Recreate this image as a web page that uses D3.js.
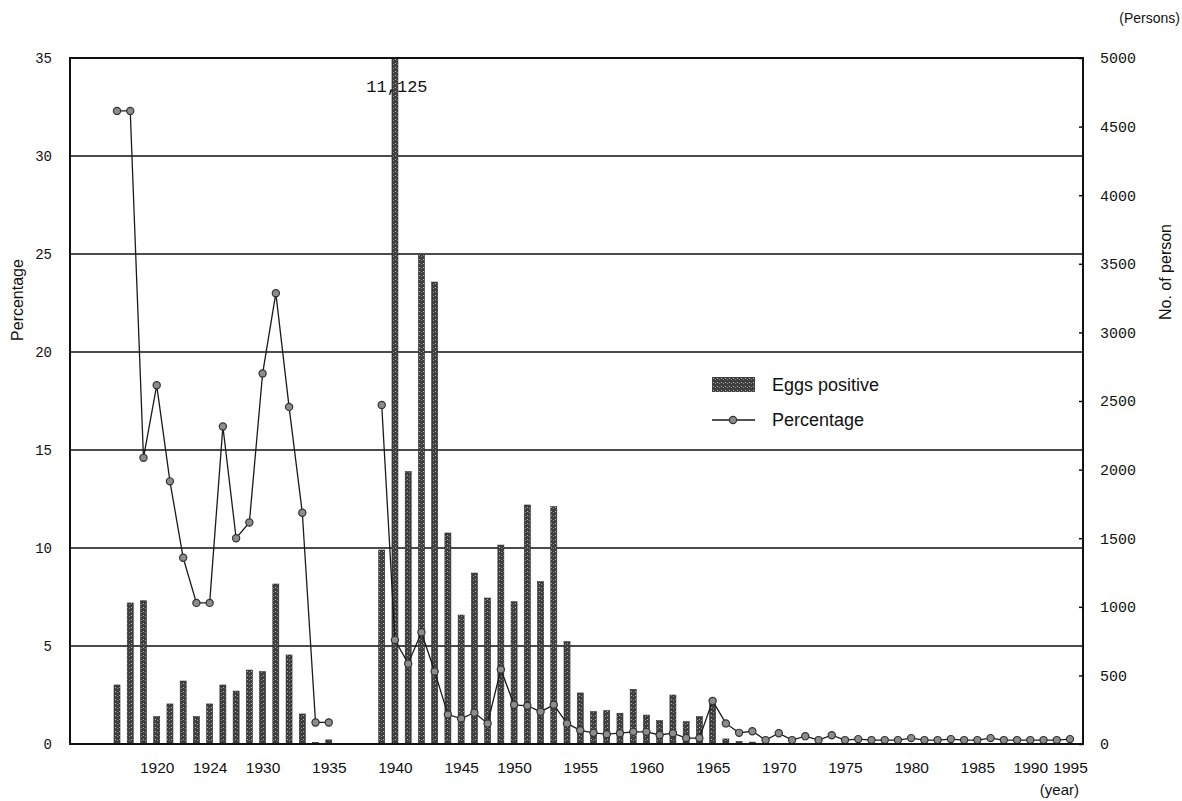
<!DOCTYPE html>
<html>
<head>
<meta charset="utf-8">
<script src="https://cdn.jsdelivr.net/npm/d3@7"></script>
<style>
  body { margin: 0; background: #fff; }
  text { fill: #111; }
</style>
</head>
<body>
<div id="chart"></div>
<script>
// survey years as plotted (categories; 1936-38 are empty slots)
var years = [1917, 1918, 1919, 1920, 1921, 1922, 1923, 1924, 1925, 1926, 1927,
  1930, 1931, 1932, 1933, 1934, 1935, 1936, 1937, 1938, 1939, 1940, 1941, 1942,
  1943, 1944, 1945, 1946, 1948, 1949, 1950, 1951, 1952, 1953, 1954, 1955, 1956,
  1957, 1958, 1959, 1960, 1961, 1962, 1963, 1964, 1965, 1966, 1967, 1968, 1969,
  1970, 1971, 1972, 1973, 1974, 1975, 1976, 1977, 1978, 1979, 1980, 1981, 1982,
  1983, 1984, 1985, 1986, 1988, 1989, 1990, 1991, 1993, 1995];

// eggs positive (persons)
var eggsPositive = [430, 1028, 1044, 199, 292, 459, 199, 292, 430, 386, 539,
  527, 1166, 649, 219, 12, 30, null, null, null, 1414, 11125, 1985, 3564,
  3367, 1538, 940, 1246, 1064, 1450, 1037, 1742, 1183, 1730, 746, 372, 236,
  243, 224, 398, 211, 170, 357, 163, 199, 326, 37, 18, 14, 6,
  4, 3, 2, 2, 1, 1, 0, 1, 0, 0, 1, 0, 0,
  0, 1, 0, 0, 0, 0, 0, 0, 0, 0];

// percentage positive
var percentage = [32.3, 32.3, 14.6, 18.3, 13.4, 9.5, 7.2, 7.2, 16.2, 10.5, 11.3,
  18.9, 23.0, 17.2, 11.8, 1.1, 1.1, null, null, null, 17.3, 5.3, 4.1, 5.7,
  3.7, 1.5, 1.3, 1.6, 1.05, 3.8, 2.0, 1.95, 1.65, 2.0, 1.05, 0.7, 0.57,
  0.5, 0.55, 0.62, 0.62, 0.46, 0.55, 0.3, 0.3, 2.2, 1.05, 0.57, 0.65, 0.2,
  0.55, 0.2, 0.4, 0.2, 0.45, 0.2, 0.25, 0.2, 0.2, 0.2, 0.3, 0.2, 0.2,
  0.25, 0.2, 0.2, 0.3, 0.2, 0.2, 0.2, 0.2, 0.2, 0.25];

var yearTicks = [1920, 1924, 1930, 1935, 1940, 1945, 1950, 1955, 1960, 1965,
  1970, 1975, 1980, 1985, 1990, 1995];

var margin = {top: 58, right: 99, bottom: 57, left: 70},
    width = 1182 - margin.left - margin.right,
    height = 801 - margin.top - margin.bottom;

var svg = d3.select("#chart")
  .append("svg")
    .attr("width", 1182)
    .attr("height", 801);

var defs = svg.append("defs");
var pat = defs.append("pattern")
    .attr("id", "stipple")
    .attr("width", 4).attr("height", 4)
    .attr("patternUnits", "userSpaceOnUse");
pat.append("rect").attr("width", 4).attr("height", 4).attr("fill", "#3f3f3f");
pat.append("rect").attr("x", 1).attr("y", 1).attr("width", 1).attr("height", 1).attr("fill", "#b5b5b5");
pat.append("rect").attr("x", 3).attr("y", 2).attr("width", 1).attr("height", 1).attr("fill", "#8a8a8a");

defs.append("clipPath").attr("id", "plotclip")
  .append("rect").attr("width", width).attr("height", height);

var g = svg.append("g")
    .attr("transform", "translate(" + margin.left + "," + margin.top + ")");

var x = d3.scalePoint()
  .domain(years)
  .range([47, width - 13]);

var yPct = d3.scaleLinear().domain([0, 35]).range([height, 0]);
var yPer = d3.scaleLinear().domain([0, 5000]).range([height, 0]);

var data = years.map(function(yr, i) {
  return {year: yr, n: eggsPositive[i], p: percentage[i]};
});

// horizontal grid lines every 5%
g.selectAll(".grid")
  .data(yPct.ticks(7).filter(function(d){ return d > 0 && d < 35; }))
  .enter()
  .append("line")
    .attr("x1", 0).attr("x2", width)
    .attr("y1", function(d){ return yPct(d); })
    .attr("y2", function(d){ return yPct(d); })
    .attr("stroke", "#111")
    .attr("stroke-width", 1.4);

// bars
var barWidth = 6;
g.append("g").attr("clip-path", "url(#plotclip)")
  .selectAll("rect")
  .data(data.filter(function(d){ return d.n != null && d.n > 0; }))
  .enter()
  .append("rect")
    .attr("x", function(d){ return x(d.year) - barWidth / 2; })
    .attr("y", function(d){ return yPer(d.n); })
    .attr("width", barWidth)
    .attr("height", function(d){ return height - yPer(d.n); })
    .attr("fill", "url(#stipple)")
    .attr("stroke", "#2a2a2a")
    .attr("stroke-width", 0.6);

// percentage line
var line = d3.line()
  .defined(function(d){ return d.p != null; })
  .x(function(d){ return x(d.year); })
  .y(function(d){ return yPct(d.p); });

g.append("path")
  .datum(data)
  .attr("d", line)
  .attr("fill", "none")
  .attr("stroke", "#1a1a1a")
  .attr("stroke-width", 1.3);

g.selectAll(".dot")
  .data(data.filter(function(d){ return d.p != null; }))
  .enter()
  .append("circle")
    .attr("cx", function(d){ return x(d.year); })
    .attr("cy", function(d){ return yPct(d.p); })
    .attr("r", 3.6)
    .attr("fill", "#8c8c8c")
    .attr("stroke", "#333")
    .attr("stroke-width", 1.2);

// frame
g.append("rect")
  .attr("width", width).attr("height", height)
  .attr("fill", "none")
  .attr("stroke", "#111")
  .attr("stroke-width", 2);

// axes
var left = g.append("g")
  .call(d3.axisLeft(yPct).tickValues(yPct.ticks(7)).tickSize(0).tickPadding(18));
left.select(".domain").remove();
left.selectAll("text")
  .style("font-family", "'Liberation Mono', monospace")
  .style("font-size", "14px");

var right = g.append("g")
  .attr("transform", "translate(" + width + ",0)")
  .call(d3.axisRight(yPer).ticks(10).tickFormat(d3.format("d"))
    .tickSizeInner(-4).tickSizeOuter(0).tickPadding(17));
right.select(".domain").remove();
right.selectAll("line").attr("stroke", "#111").attr("stroke-width", 1.5);
right.selectAll("text")
  .style("font-family", "'Liberation Mono', monospace")
  .style("font-size", "15px");

var bottom = g.append("g")
  .attr("transform", "translate(0," + height + ")")
  .call(d3.axisBottom(x).tickValues(yearTicks).tickSize(0).tickPadding(18));
bottom.select(".domain").remove();
bottom.selectAll("text")
  .style("font-family", "'Liberation Sans', Arial, sans-serif")
  .style("font-size", "15.5px");

// truncated bar label
var big = data.find(function(d){ return d.n != null && d.n > 5000; });
g.append("text")
  .attr("x", x(big.year) + 2)
  .attr("y", yPer(5000) + 34)
  .attr("text-anchor", "middle")
  .style("font-family", "'Liberation Mono', monospace")
  .style("font-size", "17px")
  .text(d3.format(",")(big.n));

// axis titles
svg.append("text")
  .attr("transform", "translate(23,300) rotate(-90)")
  .attr("text-anchor", "middle")
  .style("font-family", "'Liberation Sans', Arial, sans-serif")
  .style("font-size", "16px")
  .text("Percentage");

svg.append("text")
  .attr("transform", "translate(1171,272) rotate(-90)")
  .attr("text-anchor", "middle")
  .style("font-family", "'Liberation Sans', Arial, sans-serif")
  .style("font-size", "16px")
  .text("No. of person");

svg.append("text")
  .attr("x", 1180).attr("y", 23)
  .attr("text-anchor", "end")
  .style("font-family", "'Liberation Sans', Arial, sans-serif")
  .style("font-size", "14px")
  .text("(Persons)");

svg.append("text")
  .attr("x", 1079).attr("y", 795)
  .attr("text-anchor", "end")
  .style("font-family", "'Liberation Sans', Arial, sans-serif")
  .style("font-size", "15px")
  .text("(year)");

// legend
var legend = svg.append("g").attr("transform", "translate(712,377)");
legend.append("rect")
  .attr("width", 43).attr("height", 15)
  .attr("fill", "url(#stipple)");
legend.append("text")
  .attr("x", 60).attr("y", 14)
  .style("font-family", "'Liberation Sans', Arial, sans-serif")
  .style("font-size", "18px")
  .text("Eggs positive");
legend.append("line")
  .attr("x1", 0).attr("x2", 43)
  .attr("y1", 43).attr("y2", 43)
  .attr("stroke", "#1a1a1a").attr("stroke-width", 1.3);
legend.append("circle")
  .attr("cx", 21).attr("cy", 43).attr("r", 3.6)
  .attr("fill", "#8c8c8c").attr("stroke", "#333").attr("stroke-width", 1.2);
legend.append("text")
  .attr("x", 60).attr("y", 49)
  .style("font-family", "'Liberation Sans', Arial, sans-serif")
  .style("font-size", "18px")
  .text("Percentage");
</script>
</body>
</html>
